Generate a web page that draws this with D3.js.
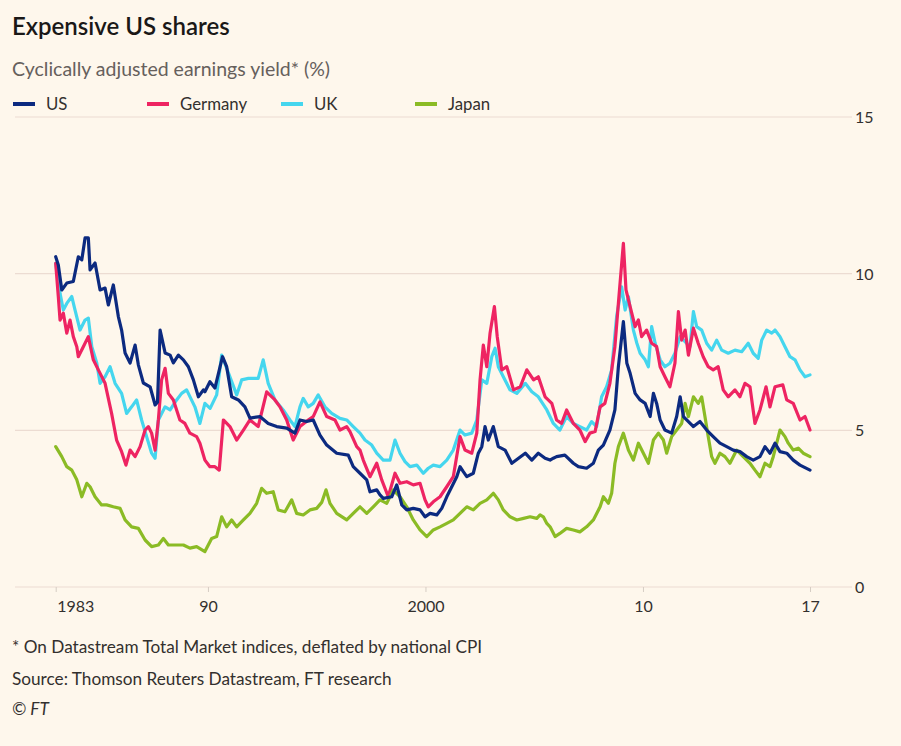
<!DOCTYPE html>
<html>
<head>
<meta charset="utf-8">
<script src="https://cdn.jsdelivr.net/npm/d3@7"></script>
<style>
  html, body { margin: 0; padding: 0; background: #fef7ec; }
  svg { display: block; }
  text { font-family: Lato, "Open Sans", sans-serif; }
</style>
</head>
<body>
<svg id="chart" width="901" height="746"></svg>
<script>
// ---------- data ----------
const seriesNames = ["US", "Germany", "UK", "Japan"];
const seriesColors = ["#0c2a80", "#ee2462", "#45d6ee", "#8bbb25"];

const usData = [[1983.0,10.54],[1983.12,10.28],[1983.28,9.48],[1983.51,9.7],[1983.81,9.75],[1984.04,10.54],[1984.2,10.44],[1984.35,11.14],[1984.5,11.14],[1984.58,10.12],[1984.81,10.34],[1985.04,9.48],[1985.27,9.54],[1985.42,9.0],[1985.65,9.64],[1985.88,8.63],[1986.03,8.2],[1986.19,7.47],[1986.42,7.15],[1986.65,7.72],[1986.8,7.09],[1987.03,6.51],[1987.34,6.39],[1987.57,5.81],[1987.68,5.9],[1987.8,8.2],[1988.03,7.47],[1988.26,7.4],[1988.41,7.15],[1988.64,7.4],[1988.87,7.25],[1989.1,7.03],[1989.33,6.61],[1989.56,6.07],[1989.79,6.29],[1989.86,6.23],[1990.09,6.55],[1990.32,6.35],[1990.67,7.35],[1990.86,7.03],[1991.09,6.07],[1991.4,5.97],[1991.7,5.75],[1991.93,5.39],[1992.39,5.44],[1992.77,5.22],[1993.16,5.12],[1993.62,5.07],[1994.0,4.91],[1994.23,5.33],[1994.54,5.28],[1994.84,5.33],[1995.15,4.85],[1995.46,4.53],[1995.92,4.27],[1996.45,4.21],[1996.68,3.84],[1996.99,3.63],[1997.3,3.42],[1997.45,3.04],[1997.76,3.1],[1997.91,2.94],[1998.06,2.83],[1998.45,2.88],[1998.68,3.26],[1998.91,2.62],[1999.14,2.46],[1999.44,2.51],[1999.75,2.46],[1999.98,2.24],[2000.21,2.35],[2000.52,2.3],[2000.75,2.51],[2000.98,2.88],[2001.21,3.2],[2001.44,3.52],[2001.59,3.84],[2001.74,3.68],[2001.9,3.52],[2002.2,3.63],[2002.43,4.27],[2002.59,4.48],[2002.74,5.12],[2002.89,4.69],[2003.12,5.12],[2003.35,4.48],[2003.66,4.37],[2003.97,3.95],[2004.28,4.11],[2004.59,4.27],[2004.89,4.05],[2005.19,4.27],[2005.5,4.11],[2005.73,4.05],[2005.88,4.11],[2006.03,4.16],[2006.41,4.21],[2006.8,3.95],[2007.03,3.84],[2007.41,3.79],[2007.72,3.95],[2007.95,4.37],[2008.18,4.53],[2008.48,5.01],[2008.71,5.65],[2008.87,7.03],[2009.1,8.47],[2009.26,7.14],[2009.41,6.82],[2009.64,6.18],[2009.87,5.97],[2010.1,5.86],[2010.33,5.44],[2010.48,6.18],[2010.63,5.86],[2010.79,5.33],[2011.01,5.01],[2011.32,4.91],[2011.55,5.44],[2011.71,6.07],[2011.86,5.44],[2012.32,5.12],[2012.62,5.28],[2012.93,5.01],[2013.23,4.8],[2013.54,4.59],[2013.85,4.48],[2014.15,4.37],[2014.46,4.32],[2014.77,4.16],[2015.07,4.05],[2015.38,4.16],[2015.61,4.48],[2015.84,4.27],[2016.07,4.59],[2016.3,4.32],[2016.61,4.27],[2016.91,4.05],[2017.22,3.89],[2017.68,3.73]];

const germanyData = [[1983.0,10.33],[1983.12,9.27],[1983.2,8.52],[1983.35,8.74],[1983.51,8.1],[1983.66,8.52],[1983.81,7.99],[1983.97,7.67],[1984.04,7.35],[1984.27,7.67],[1984.5,7.99],[1984.73,7.25],[1984.96,6.93],[1985.27,6.5],[1985.57,5.54],[1985.8,4.69],[1986.03,4.32],[1986.23,3.89],[1986.42,4.37],[1986.65,4.16],[1986.88,4.48],[1987.11,5.01],[1987.26,5.12],[1987.41,4.91],[1987.57,4.37],[1987.72,5.33],[1987.87,6.61],[1988.03,6.98],[1988.18,6.18],[1988.41,5.97],[1988.71,5.33],[1988.94,5.22],[1989.17,4.91],[1989.48,4.8],[1989.63,4.59],[1989.86,4.05],[1990.09,3.84],[1990.32,3.84],[1990.52,3.73],[1990.71,5.33],[1991.01,5.12],[1991.32,4.69],[1991.63,5.01],[1991.93,5.33],[1992.31,5.12],[1992.7,6.23],[1993.08,5.97],[1993.31,5.75],[1993.62,5.33],[1993.92,4.69],[1994.23,5.12],[1994.61,5.33],[1994.84,5.44],[1995.15,5.91],[1995.46,5.44],[1995.84,5.33],[1996.07,5.01],[1996.38,5.12],[1996.53,4.96],[1996.84,4.48],[1996.99,4.37],[1997.14,4.05],[1997.45,3.52],[1997.76,3.95],[1997.99,3.42],[1998.29,2.88],[1998.6,3.63],[1998.83,3.31],[1999.14,3.36],[1999.44,3.26],[1999.75,3.31],[1999.98,2.78],[2000.13,2.56],[2000.36,2.72],[2000.67,2.88],[2000.98,3.2],[2001.28,3.52],[2001.59,4.8],[2001.82,4.37],[2002.13,4.27],[2002.36,4.91],[2002.51,6.61],[2002.66,7.72],[2002.82,7.03],[2002.97,8.1],[2003.17,8.95],[2003.3,7.99],[2003.51,6.93],[2003.74,7.03],[2004.05,6.29],[2004.36,6.39],[2004.66,6.93],[2004.97,6.61],[2005.19,6.71],[2005.5,6.07],[2005.81,5.86],[2006.03,5.33],[2006.26,5.22],[2006.49,5.65],[2006.8,5.22],[2007.1,5.01],[2007.34,4.64],[2007.56,4.91],[2007.8,4.96],[2008.03,5.75],[2008.25,5.86],[2008.48,6.5],[2008.71,7.67],[2008.87,9.05],[2009.1,10.97],[2009.22,9.48],[2009.41,8.95],[2009.64,8.31],[2009.79,8.52],[2009.94,7.99],[2010.17,8.2],[2010.4,7.78],[2010.63,7.67],[2010.79,7.03],[2011.01,6.71],[2011.24,6.39],[2011.47,7.14],[2011.63,8.79],[2011.78,7.88],[2011.94,8.2],[2012.09,7.4],[2012.32,8.26],[2012.54,7.78],[2012.77,7.35],[2013.0,7.03],[2013.23,6.93],[2013.46,7.03],[2013.69,6.29],[2013.92,6.07],[2014.23,6.29],[2014.46,6.07],[2014.69,6.5],[2014.92,6.39],[2015.15,5.22],[2015.38,5.65],[2015.66,6.39],[2015.84,5.75],[2016.07,6.39],[2016.43,6.45],[2016.61,5.97],[2016.91,5.86],[2017.22,5.33],[2017.45,5.44],[2017.68,5.01]];

const ukData = [[1983.0,10.33],[1983.2,9.37],[1983.35,8.84],[1983.51,9.05],[1983.74,9.27],[1983.89,8.84],[1984.12,8.2],[1984.35,8.52],[1984.5,8.58],[1984.66,7.67],[1984.89,7.14],[1985.04,6.5],[1985.27,6.71],[1985.5,7.03],[1985.73,6.5],[1986.03,6.18],[1986.26,5.54],[1986.49,5.75],[1986.72,5.97],[1986.95,5.33],[1987.18,4.8],[1987.41,4.27],[1987.57,4.11],[1987.72,5.33],[1988.03,5.75],[1988.26,5.65],[1988.56,5.97],[1988.79,6.18],[1989.02,6.29],[1989.4,5.75],[1989.63,5.22],[1989.86,5.86],[1990.1,5.7],[1990.4,6.13],[1990.63,7.4],[1991.01,6.71],[1991.32,6.13],[1991.55,6.61],[1991.86,6.66],[1992.31,6.66],[1992.54,7.25],[1992.77,6.5],[1993.08,5.97],[1993.46,5.65],[1993.77,5.33],[1994.0,5.12],[1994.23,5.75],[1994.38,6.02],[1994.61,5.75],[1994.84,5.86],[1995.07,6.13],[1995.38,5.75],[1995.69,5.54],[1996.07,5.38],[1996.38,5.33],[1996.68,5.12],[1996.99,4.91],[1997.22,4.69],[1997.53,4.53],[1997.76,4.27],[1998.06,4.05],[1998.37,4.05],[1998.6,4.69],[1998.83,4.27],[1999.06,4.0],[1999.29,3.84],[1999.6,3.89],[1999.9,3.63],[2000.13,3.79],[2000.36,3.89],[2000.67,3.84],[2000.98,4.05],[2001.28,4.37],[2001.59,5.01],[2001.82,4.85],[2002.13,4.91],[2002.36,5.33],[2002.59,6.61],[2002.82,6.5],[2003.05,7.35],[2003.2,7.62],[2003.35,7.03],[2003.58,6.71],[2003.89,6.29],[2004.2,6.18],[2004.59,6.5],[2004.89,6.23],[2005.19,6.07],[2005.58,5.65],[2005.88,5.22],[2006.18,5.01],[2006.49,5.44],[2006.8,5.22],[2007.1,5.12],[2007.41,5.01],[2007.64,5.28],[2007.87,5.12],[2008.1,6.07],[2008.33,6.39],[2008.56,6.93],[2008.79,8.63],[2009.02,9.58],[2009.18,8.84],[2009.33,9.27],[2009.56,8.2],[2009.72,7.78],[2009.87,7.46],[2010.1,7.25],[2010.25,7.03],[2010.4,8.31],[2010.56,7.78],[2010.79,7.25],[2011.01,7.03],[2011.24,7.14],[2011.47,7.46],[2011.71,7.99],[2012.16,7.67],[2012.32,8.79],[2012.47,8.31],[2012.7,8.2],[2012.93,7.78],[2013.16,7.56],[2013.39,7.88],[2013.62,7.56],[2013.92,7.46],[2014.23,7.56],[2014.54,7.51],[2014.84,7.78],[2015.07,7.46],[2015.3,7.3],[2015.46,7.88],[2015.69,8.2],[2015.92,8.1],[2016.07,8.2],[2016.3,7.99],[2016.53,7.67],[2016.76,7.35],[2016.99,7.25],[2017.22,6.93],[2017.45,6.71],[2017.68,6.77]];

const japanData = [[1983.0,4.48],[1983.28,4.16],[1983.51,3.84],[1983.74,3.73],[1983.97,3.42],[1984.2,2.88],[1984.43,3.31],[1984.58,3.2],[1984.81,2.88],[1985.11,2.62],[1985.34,2.62],[1985.65,2.56],[1985.96,2.51],[1986.19,2.14],[1986.49,1.92],[1986.8,1.87],[1987.11,1.5],[1987.41,1.29],[1987.72,1.34],[1987.95,1.55],[1988.18,1.34],[1988.56,1.34],[1988.87,1.34],[1989.17,1.24],[1989.48,1.29],[1989.86,1.13],[1990.17,1.55],[1990.4,1.61],[1990.63,2.24],[1990.86,1.92],[1991.09,2.14],[1991.32,1.92],[1991.63,2.14],[1991.93,2.35],[1992.24,2.67],[1992.47,3.15],[1992.7,2.99],[1993.0,3.04],[1993.23,2.46],[1993.54,2.4],[1993.85,2.78],[1994.08,2.35],[1994.38,2.3],[1994.69,2.46],[1995.0,2.51],[1995.23,2.7],[1995.43,3.1],[1995.61,2.67],[1995.92,2.35],[1996.38,2.14],[1996.68,2.35],[1996.99,2.56],[1997.3,2.35],[1997.6,2.56],[1997.91,2.78],[1998.22,2.67],[1998.52,3.1],[1998.83,2.88],[1999.14,2.56],[1999.44,2.14],[1999.75,1.82],[2000.06,1.61],[2000.36,1.82],[2000.67,1.92],[2000.98,2.03],[2001.28,2.14],[2001.59,2.35],[2001.9,2.56],[2002.2,2.46],[2002.51,2.67],[2002.82,2.78],[2003.12,2.99],[2003.35,2.78],[2003.58,2.46],[2003.89,2.24],[2004.2,2.14],[2004.51,2.19],[2004.81,2.24],[2005.12,2.19],[2005.27,2.3],[2005.42,2.24],[2005.58,2.03],[2005.73,1.92],[2005.96,1.61],[2006.18,1.71],[2006.49,1.87],[2006.8,1.82],[2007.1,1.76],[2007.41,1.92],[2007.72,2.14],[2008.03,2.56],[2008.18,2.88],[2008.41,2.67],[2008.56,2.99],[2008.71,3.95],[2008.87,4.48],[2009.1,4.91],[2009.33,4.37],[2009.56,4.05],[2009.79,4.59],[2010.25,3.95],[2010.48,4.69],[2010.71,4.91],[2010.94,4.69],[2011.09,4.27],[2011.32,4.8],[2011.55,5.01],[2011.78,5.22],[2011.94,5.86],[2012.09,5.44],[2012.32,6.07],[2012.54,5.86],[2012.7,6.07],[2012.85,5.44],[2013.0,4.8],[2013.16,4.16],[2013.31,3.95],[2013.54,4.27],[2013.77,4.16],[2014.0,3.95],[2014.31,4.37],[2014.61,4.16],[2014.92,3.95],[2015.15,3.73],[2015.38,3.52],[2015.61,3.95],[2015.84,3.84],[2015.99,4.16],[2016.15,4.59],[2016.3,5.01],[2016.53,4.8],[2016.68,4.59],[2016.91,4.37],[2017.14,4.43],[2017.37,4.27],[2017.68,4.16]];

const xTickValues = [1983, 1990, 2000, 2010, 2017.68];
const xTickLabels = ["1983", "90", "2000", "10", "17"];
const yTickValues = [0, 5, 10, 15];

const titleText = "Expensive US shares";
const subtitleText = "Cyclically adjusted earnings yield* (%)";
const footnoteText = "* On Datastream Total Market indices, deflated by national CPI";
const sourceText = "Source: Thomson Reuters Datastream, FT research";
const creditText = "\u00A9 FT";

// ---------- drawing ----------
const svg = d3.select("#chart");
svg.append("rect").attr("width", 901).attr("height", 746).attr("fill", "#fef7ec");

const x = d3.scaleLinear().domain([1983, 2017.68]).range([55.7, 810]);
const y = d3.scaleLinear().domain([0, 15]).range([587, 117]);
const gridLeft = 15, gridRight = 852;

// titles
svg.append("text").attr("x", 12).attr("y", 35).text(titleText)
  .attr("font-size", 24).attr("font-weight", 600).attr("fill", "#1a1817");
svg.append("text").attr("x", 12).attr("y", 76).text(subtitleText)
  .attr("font-size", 19.5).attr("fill", "#66605c");

// legend
const legend = svg.append("g");
seriesNames.forEach((name, i) => {
  const lx = 13 + i * 134;
  legend.append("rect").attr("x", lx).attr("y", 102).attr("width", 22).attr("height", 4)
    .attr("fill", seriesColors[i]);
  legend.append("text").attr("x", lx + 33).attr("y", 110).text(name)
    .attr("font-size", 16.8).attr("fill", "#33302e");
});

// gridlines
const grid = svg.append("g");
grid.selectAll("line").data(yTickValues).join("line")
  .attr("x1", gridLeft).attr("x2", gridRight)
  .attr("y1", d => y(d)).attr("y2", d => y(d))
  .attr("stroke", "#ecdcd2").attr("stroke-width", 1.2);

// y axis labels (right)
const yAxis = d3.axisRight(y).tickValues(yTickValues).tickSize(0).tickPadding(0);
const yg = svg.append("g").attr("transform", `translate(855,0)`).call(yAxis);
yg.select(".domain").remove();
yg.selectAll("text").attr("font-size", 16).attr("fill", "#33302e")
  .attr("font-family", "Lato, sans-serif").attr("dy", "0.34em").attr("x", 0);

// x axis
const xAxis = d3.axisBottom(x).tickValues(xTickValues)
  .tickFormat((d, i) => xTickLabels[i]).tickSize(5).tickPadding(9);
const xg = svg.append("g").attr("transform", `translate(0,${y(0)})`).call(xAxis);
xg.select(".domain").remove();
xg.selectAll(".tick line").attr("stroke", "#d6cdc4");
xg.selectAll("text").attr("font-size", 16).attr("fill", "#33302e")
  .attr("font-family", "Lato, sans-serif");
xg.selectAll(".tick").filter((d, i) => i === 0).select("text").attr("text-anchor", "start").attr("x", 1);

// lines
const line = d3.line().x(d => x(d[0])).y(d => y(d[1])).curve(d3.curveLinear);
const drawOrder = [
  { data: ukData, color: seriesColors[2] },
  { data: germanyData, color: seriesColors[1] },
  { data: japanData, color: seriesColors[3] },
  { data: usData, color: seriesColors[0] }
];
svg.append("g").selectAll("path").data(drawOrder).join("path")
  .attr("d", d => line(d.data))
  .attr("fill", "none")
  .attr("stroke", d => d.color)
  .attr("stroke-width", 3.2)
  .attr("stroke-linejoin", "round")
  .attr("stroke-linecap", "round");

// footnotes
svg.append("text").attr("x", 12).attr("y", 653).text(footnoteText)
  .attr("font-size", 17.2).attr("fill", "#33302e");
svg.append("text").attr("x", 12).attr("y", 685).text(sourceText)
  .attr("font-size", 17.2).attr("fill", "#33302e");
svg.append("text").attr("x", 12).attr("y", 715).text(creditText)
  .attr("font-size", 17.2).attr("font-style", "italic").attr("fill", "#33302e");
</script>
</body>
</html>
